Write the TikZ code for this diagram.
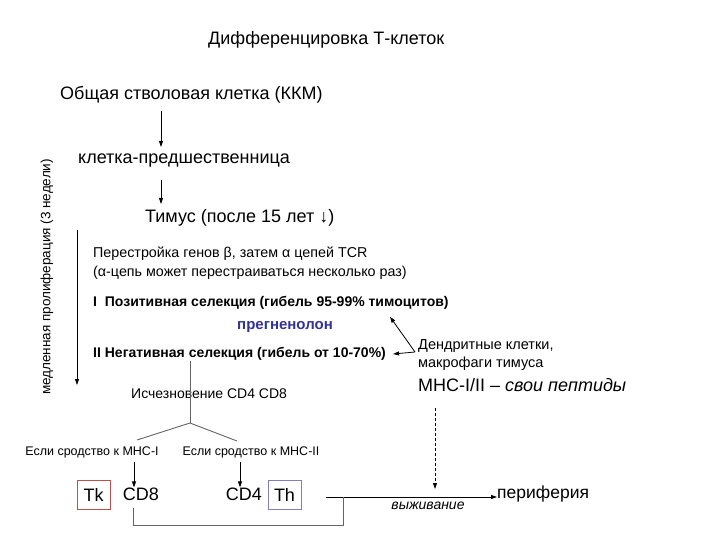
\documentclass[tikz,border=0pt]{standalone}
\usepackage{fontspec}
\setmainfont{Liberation Sans}
\usetikzlibrary{arrows.meta, positioning, calc}
\definecolor{tkred}{RGB}{192,80,77}
\definecolor{thblue}{RGB}{128,128,192}
\definecolor{pregblue}{RGB}{51,51,153}
\definecolor{linegray}{RGB}{100,100,100}

\begin{document}
\begin{tikzpicture}[x=1pt, y=-1pt,
  big/.style={font=\fontsize{18}{21}\selectfont, inner sep=0pt, anchor=west},
  txt/.style={font=\fontsize{14.3}{17}\selectfont, inner sep=0pt, anchor=west},
  bld/.style={font=\fontsize{14}{17}\selectfont\bfseries, inner sep=0pt, anchor=west},
  sml/.style={font=\fontsize{12.5}{15}\selectfont, inner sep=0pt},
  cell/.style={draw, line width=0.9pt, minimum width=33pt, minimum height=29pt,
               inner sep=0pt, font=\fontsize{18}{21}\selectfont},
  arr/.style={-{Triangle[length=6pt, width=4pt]}, line width=0.8pt},
  branch/.style={linegray, line width=0.9pt},
]
  \useasboundingbox (0,0) rectangle (720,540);

  % Main chain
  \node[big] (title) at (208,40) {Дифференцировка Т-клеток};
  \node[big] (stem) at (60,95) {Общая стволовая клетка (ККМ)};
  \node[big] (prec) at (78,161) {клетка-предшественница};
  \node[big] (thymus) at (145,218) {Тимус (после 15 лет ↓)};

  \coordinate (a1) at (161,111);
  \coordinate (a1e) at (161,147);
  \coordinate (a2) at (161,180);
  \coordinate (a2e) at (161,204);
  \draw[arr] (a1) -- (a1e);
  \draw[arr] (a2) -- (a2e);

  % Side arrow
  \node[font=\fontsize{13.5}{16}\selectfont, inner sep=0pt, rotate=90] (prolif) at (47,277)
    {медленная пролиферация (3 недели)};
  \coordinate (p1) at (77,230);
  \coordinate (p2) at (77,385);
  \draw[arr] (p1) -- (p2);

  % Thymus stages
  \node[txt] (rearr) at (93,254) {Перестройка генов β, затем α цепей TCR};
  \node[txt] (alpha) at (93,273) {(α-цепь может перестраиваться несколько раз)};
  \node[bld] (pos) at (93,303) {I\ \ Позитивная селекция (гибель 95-99\% тимоцитов)};
  \node[bld, font=\fontsize{15}{18}\selectfont\bfseries, pregblue, anchor=center] (preg) at (285,327) {прегненолон};
  \node[bld] (neg) at (93,354) {II Негативная селекция (гибель от 10-70\%)};

  \node[txt, font=\fontsize{14.5}{17}\selectfont] (dend) at (418,346) {Дендритные клетки,};
  \node[txt, font=\fontsize{14.5}{17}\selectfont] (macro) at (418,364) {макрофаги тимуса};
  \coordinate (dc) at (415,352);
  \draw[arr] (dc) -- ($(pos.south west)+(297,7)$);
  \draw[arr] (dc) -- ($(neg.east)+(7,0)$);

  \node[big] (mhc) at (418,385) {MHC-I/II -- \textit{свои пептиды}};

  % Branching
  \node[txt, font=\fontsize{14}{17}\selectfont] (loss) at (131,394) {Исчезновение CD4 CD8};
  \coordinate (br) at (190,423);
  \coordinate (bl) at (137,440);
  \coordinate (bre) at (237,441);
  \draw[branch] (br |- neg.south) -- (br);
  \draw[branch] (bl) -- (br) -- (bre);

  \node[sml] (ifI) at (92,452) {Если сродство к MHC-I};
  \node[sml] (ifII) at (251,452) {Если сродство к MHC-II};

  \node[cell, tkred] (tk) at (93.5,494.5) {\color{black}Tk};
  \node[big, anchor=center] (cd8) at (141,494) {CD8};
  \node[big, anchor=center] (cd4) at (244,494) {CD4};
  \node[cell, thblue] (th) at (284.5,494.5) {\color{black}Th};
  \node[big, font=\fontsize{17.5}{21}\selectfont] (peri) at (497,494) {периферия};

  \coordinate (c1) at (134,462);
  \coordinate (c2) at (240,462);
  \draw[arr] (c1) -- (c1 |- cd8.north);
  \draw[arr] (c2) -- (c2 |- cd4.north);

  % Exit
  \coordinate (j) at (343,497);
  \coordinate (ex) at (326,497);
  \draw[arr] (ex) -- (peri.west |- ex);
  \draw[branch] (133,508) -- (133,525) -- (j |- 0,525) -- (j);
  \coordinate (m1) at (435,408);
  \draw[arr, dashed, dash pattern=on 3pt off 2pt] (m1) -- (435,489);
  \node[font=\fontsize{14}{16}\selectfont\itshape] (surv) at (428,506) {выживание};
\end{tikzpicture}
\end{document}
